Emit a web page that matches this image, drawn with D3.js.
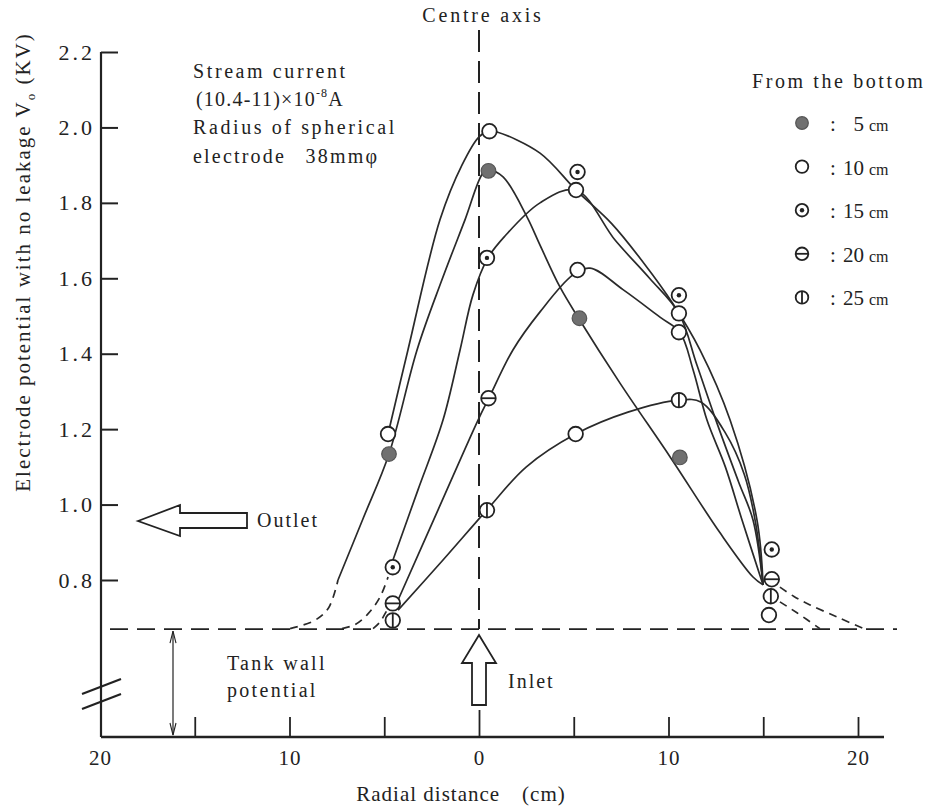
<!DOCTYPE html>
<html><head><meta charset="utf-8">
<script src="https://cdn.jsdelivr.net/npm/d3@7"></script>
<style>
body{margin:0;background:#fff}
svg{display:block}
svg text{font-family:'Liberation Serif','DejaVu Serif','Times New Roman',serif !important;fill:#222}
</style>
</head><body><svg id="c" width="939" height="811" font-family="Liberation Serif"></svg>
<script>
// ---------- data ----------
const yTicks = [0.8, 1.0, 1.2, 1.4, 1.6, 1.8, 2.0, 2.2];
const xTicks = [-20, -15, -10, -5, 0, 5, 10, 15, 20];
const xLabelled = [-20, -10, 0, 10, 20];
const tankWall = 0.67;
const legendTitle = "From the bottom";
const legendLabels = ["5", "10", "15", "20", "25"];
const legendTypes = ["filled", "open", "dot", "minus", "bar"];

// measured points per height [radial distance cm, V0 KV]
const pts5  = [[-4.75,1.134],[0.5,1.885],[5.3,1.494],[10.6,1.125]];
const pts10 = [[-4.8,1.187],[0.55,1.99],[5.12,1.834],[10.55,1.457],[15.3,0.707]];
const pts15 = [[-4.55,0.834],[0.42,1.654],[5.2,1.882],[10.55,1.555],[15.45,0.881]];
const pts20 = [[-4.55,0.738],[0.5,1.282],[5.2,1.622],[10.55,1.507],[15.45,0.802]];
const pts25 = [[-4.55,0.693],[0.42,0.985],[5.1,1.187],[10.55,1.277],[15.4,0.757]];
// symbol drawn at each point (some mid points are drawn as plain circles)
const sym5  = ["filled","filled","filled","filled"];
const sym10 = ["open","open","open","open","open"];
const sym15 = ["dot","dot","dot","dot","dot"];
const sym20 = ["minus","minus","open","open","minus"];
const sym25 = ["bar","bar","open","bar","bar"];

// hand-drawn curves
const curve5Dash  = [[-9.97,0.671],[-8.7,0.692],[-7.95,0.725],[-7.44,0.80]];
const curve5      = [[-7.44,0.80],[-6.1,0.965],[-4.75,1.134],[-3.27,1.41],[-2.0,1.59],[-0.74,1.755],[0.21,1.879],[0.53,1.887],[1.27,1.869],[2.53,1.763],[3.22,1.688],[4.27,1.577],[5.28,1.492],[7.44,1.322],[10.13,1.123],[12.72,0.925],[14.46,0.808],[14.99,0.787]];
const curve10     = [[-4.8,1.187],[-3.75,1.41],[-2.06,1.755],[-0.9,1.90],[0.0,1.975],[0.53,1.99],[0.95,1.988],[3.22,1.932],[5.12,1.834],[7.0,1.745],[8.7,1.64],[10.2,1.535],[11.66,1.41],[13.25,1.224],[14.67,0.959],[14.99,0.787]];
const curve15Dash = [[-7.23,0.671],[-6.54,0.682],[-5.86,0.71],[-5.22,0.755],[-4.8,0.808]];
const curve15     = [[-4.54,0.853],[-3.22,1.039],[-1.9,1.224],[-1.0,1.41],[-0.32,1.556],[0.47,1.654],[1.37,1.712],[3.22,1.80],[5.12,1.834],[7.2,1.70],[9.0,1.60],[10.55,1.507],[11.5,1.37],[12.6,1.21],[13.7,1.06],[14.46,0.959],[14.99,0.787]];
const curve20Dash = [[-5.59,0.671],[-5.22,0.689],[-4.91,0.715],[-4.7,0.734]];
const curve20     = [[-4.27,0.747],[-2.16,0.986],[-0.05,1.224],[0.53,1.283],[1.79,1.41],[3.22,1.511],[4.96,1.609],[5.86,1.627],[7.6,1.57],[9.55,1.497],[10.6,1.457],[11.3,1.357],[12.03,1.224],[13.0,1.1],[13.88,0.959],[14.99,0.787]];
const curve25     = [[-4.27,0.72],[-1.9,0.853],[0.42,0.986],[2.5,1.10],[5.1,1.187],[7.86,1.245],[10.55,1.277],[11.7,1.272],[13.0,1.19],[14.0,1.08],[14.6,0.95],[14.99,0.787]];
const curveRDashA = [[15.88,0.781],[16.6,0.757],[17.47,0.734],[18.89,0.702],[20.3,0.671]];
const curveRDashB = [[15.88,0.742],[16.78,0.713],[17.99,0.671]];

// ---------- drawing ----------
const FONT = "'Liberation Serif','DejaVu Serif','Times New Roman',serif";
const svg = d3.select("#c");
const x = d3.scaleLinear().domain([-20, 20]).range([100, 858]);
const y = d3.scaleLinear().domain([0.8, 2.2]).range([580, 52]);
const axisX = 101, axisY = 737, axisRight = 884;
const ink = "#222";

// axes lines
svg.append("line").attr("x1", axisX).attr("x2", axisX).attr("y1", y(2.2)).attr("y2", axisY)
  .attr("stroke", ink).attr("stroke-width", 2.2);
svg.append("line").attr("x1", axisX).attr("x2", axisRight).attr("y1", axisY).attr("y2", axisY)
  .attr("stroke", ink).attr("stroke-width", 2.4);

// y axis ticks (inward) + labels
const gy = svg.append("g").attr("transform", `translate(${axisX},0)`)
  .call(d3.axisLeft(y).tickValues(yTicks).tickSizeInner(-17).tickSizeOuter(0).tickPadding(9)
    .tickFormat(d3.format(".1f")));
gy.attr("font-family", FONT);
gy.select(".domain").remove();
gy.selectAll(".tick line").attr("stroke", ink).attr("stroke-width", 2);
gy.selectAll(".tick text").attr("font-size", 22).attr("letter-spacing", 3)
  .attr("fill", ink).attr("dx", 3);

// x axis ticks (upward) + labels
const gx = svg.append("g").attr("transform", `translate(0,${axisY})`)
  .call(d3.axisBottom(x).tickValues(xTicks).tickSizeInner(-20).tickSizeOuter(0).tickPadding(13)
    .tickFormat(d => xLabelled.includes(d) ? Math.abs(d) : ""));
gx.attr("font-family", FONT);
gx.select(".domain").remove();
gx.selectAll(".tick line").attr("stroke", ink).attr("stroke-width", 1.8)
  .attr("y2", d => d === 0 ? -27 : (d === -20 ? 0 : -20));
gx.selectAll(".tick text").attr("font-size", 21).attr("letter-spacing", 1).attr("fill", ink);

// axis break marks
[0, 15].forEach(dy => {
  svg.append("line").attr("x1", 82).attr("y1", 694 + dy).attr("x2", 121).attr("y2", 679 + dy)
    .attr("stroke", ink).attr("stroke-width", 2.2);
});

// tank wall potential line
svg.append("line").attr("x1", 110).attr("x2", 897).attr("y1", y(tankWall)).attr("y2", y(tankWall))
  .attr("stroke", ink).attr("stroke-width", 1.7).attr("stroke-dasharray", "18,9");

// centre axis
svg.append("line").attr("x1", x(0)).attr("x2", x(0)).attr("y1", 30).attr("y2", y(tankWall))
  .attr("stroke", ink).attr("stroke-width", 2).attr("stroke-dasharray", "22,9");

// curves
const line = d3.line().x(d => x(d[0])).y(d => y(d[1])).curve(d3.curveCatmullRom.alpha(0.5));
const solidCurves = [curve5, curve10, curve15, curve20, curve25];
const dashedCurves = [curve5Dash, curve15Dash, curve20Dash, curveRDashA, curveRDashB];
svg.append("g").selectAll("path").data(solidCurves).join("path")
  .attr("d", line).attr("fill", "none").attr("stroke", "#2a2a2a").attr("stroke-width", 1.7);
svg.append("g").selectAll("path").data(dashedCurves).join("path")
  .attr("d", line).attr("fill", "none").attr("stroke", "#2a2a2a").attr("stroke-width", 1.7)
  .attr("stroke-dasharray", "8,6");

// markers
function marker(g, type, cx, cy, r) {
  const m = g.append("g").attr("transform", `translate(${cx},${cy})`);
  if (type === "filled") {
    m.append("circle").attr("r", r).attr("fill", "#707070").attr("stroke", "#555").attr("stroke-width", 1.2);
    return;
  }
  m.append("circle").attr("r", r).attr("fill", "#fff").attr("stroke", ink).attr("stroke-width", 1.8);
  if (type === "dot") m.append("circle").attr("r", 2.2).attr("fill", ink);
  if (type === "minus") m.append("line").attr("x1", -r).attr("x2", r).attr("stroke", ink).attr("stroke-width", 1.8);
  if (type === "bar") m.append("line").attr("y1", -r).attr("y2", r).attr("stroke", ink).attr("stroke-width", 1.8);
}
const mg = svg.append("g");
[[pts5, sym5], [pts10, sym10], [pts15, sym15], [pts20, sym20], [pts25, sym25]].forEach(([pts, syms]) => {
  pts.forEach((p, i) => marker(mg, syms[i], x(p[0]), y(p[1]), 7.3));
});

// legend
const lg = svg.append("g");
lg.append("text").attr("x", 752).attr("y", 88).attr("font-size", 20).attr("letter-spacing", 2.6).text(legendTitle);
legendLabels.forEach((lab, i) => {
  const cy = 123 + i * 43.6;
  marker(lg, legendTypes[i], 802, cy, 6.3);
  lg.append("text").attr("x", 830).attr("y", cy + 8).attr("font-size", 21).text(":");
  lg.append("text").attr("x", 864).attr("y", cy + 8).attr("font-size", 21).attr("text-anchor", "end").text(lab);
  lg.append("text").attr("x", 869).attr("y", cy + 8).attr("font-size", 16).text("cm");
});

// annotation texts
function txt(xp, yp, s, size, ls, anchor) {
  return svg.append("text").attr("x", xp).attr("y", yp).attr("font-size", size)
    .attr("letter-spacing", ls).attr("text-anchor", anchor || "start").text(s);
}
txt(483, 22, "Centre axis", 20, 2.8, "middle");
txt(193, 78, "Stream current", 20, 2.6);
const t2 = svg.append("text").attr("x", 196).attr("y", 106).attr("font-size", 20).attr("letter-spacing", 1.2);
t2.append("tspan").text("(10.4-11)×10");
t2.append("tspan").attr("font-size", 12).attr("dy", -9).text("-8");
t2.append("tspan").attr("dy", 9).text("A");
txt(193, 134, "Radius of spherical", 20, 2.6);
txt(193, 163, "electrode\u2002 38mm\u03C6", 20, 2.2);
txt(257, 527, "Outlet", 20, 2);
txt(508, 688, "Inlet", 20, 2);
txt(227, 670, "Tank wall", 20, 2.3);
txt(227, 697, "potential", 20, 2.3);

// axis titles
const yt = svg.append("text").attr("transform", "translate(30,262) rotate(-90)")
  .attr("text-anchor", "middle").attr("font-size", 21).attr("letter-spacing", 2);
yt.append("tspan").text("Electrode potential with no leakage V");
yt.append("tspan").attr("font-size", 13).attr("dy", 5).text("o");
yt.append("tspan").attr("dy", -5).text(" (KV)");
txt(461, 801, "Radial distance\u2003(cm)", 21, 1, "middle");

// outlet arrow
svg.append("path")
  .attr("d", "M138,521 L180,505 L180,513 L247,513 L247,528 L180,528 L180,536 Z")
  .attr("fill", "#fff").attr("stroke", ink).attr("stroke-width", 1.8);
// inlet arrow
const ix = x(0);
svg.append("path")
  .attr("d", `M${ix},635 L${ix+17},663 L${ix+7},663 L${ix+7},705 L${ix-7},705 L${ix-7},663 L${ix-17},663 Z`)
  .attr("fill", "#fff").attr("stroke", ink).attr("stroke-width", 1.8);
// tank wall double arrow
svg.append("line").attr("x1", 173).attr("x2", 173).attr("y1", y(tankWall) + 2).attr("y2", axisY - 2)
  .attr("stroke", ink).attr("stroke-width", 1.2);
svg.append("path").attr("d", `M170,${y(tankWall)+14} L173,${y(tankWall)+2} L176,${y(tankWall)+14}`)
  .attr("fill", "none").attr("stroke", ink).attr("stroke-width", 1.1);
svg.append("path").attr("d", `M170,${axisY-14} L173,${axisY-2} L176,${axisY-14}`)
  .attr("fill", "none").attr("stroke", ink).attr("stroke-width", 1.1);
</script>
</body></html>
